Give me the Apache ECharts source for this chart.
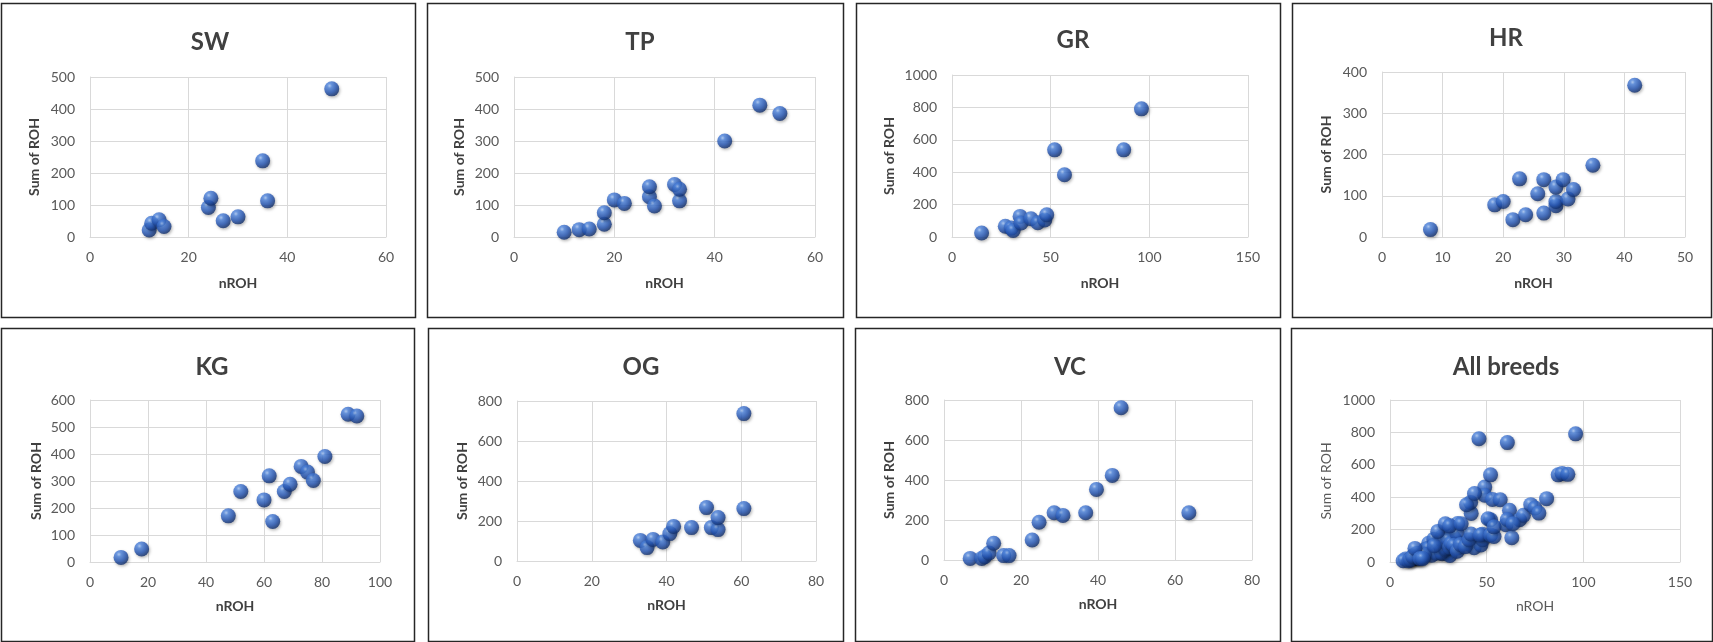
<!DOCTYPE html>
<html><head><meta charset="utf-8">
<script src="https://cdn.jsdelivr.net/npm/echarts@6/dist/echarts.min.js"></script>
<style>html,body{margin:0;padding:0;background:#fff}#c{width:1713px;height:642px}</style>
</head><body><div id="c"></div>
<script>
// ---- data (nROH, Sum of ROH) ----
const SW = [[12,22],[12.5,43],[14,54],[15,33],[24,92],[24.5,121],[27,51],[30,63],[35,238],[36,113],[49,463]];
const TP = [[10,15],[13,23],[15,25],[18,40],[18,76],[20,116],[22,105],[27,126],[27,157],[28,97],[32,164],[33,113],[33,149],[42,300],[49,412],[53,386]];
const GR = [[15,25],[27,66],[30,55],[31,40],[34.5,127],[35,86],[40,113],[43.5,88],[47,105],[48,137],[52,538],[57,384],[87,538],[96,791]];
const HR = [[8,18],[18.6,78],[20,86],[21.6,42],[22.7,141],[23.7,54],[25.7,105],[26.7,58],[26.7,139],[28.7,76],[28.7,86],[28.7,121],[29.9,139],[30.7,92],[31.6,115],[34.8,174],[41.7,368]];
const KG = [[10.7,17],[17.8,48],[47.7,171],[52,261],[60,230],[61.8,319],[63,150],[67,261],[69,288],[72.8,354],[75,333],[77,302],[81,391],[89,547],[92,541]];
const OG = [[33,103],[34.8,67],[36.4,108],[39,95],[40.9,137],[41.9,173],[46.7,167],[50.7,267],[52,167],[53.8,157],[53.8,217],[60.7,262],[60.7,737]];
const VC = [[6.8,8],[9.8,8],[10.6,17],[11.7,35],[12.9,84],[15.5,22],[16.9,22],[22.9,100],[24.7,189],[28.6,236],[30.9,223],[36.8,236],[39.6,353],[43.7,423],[46,761],[63.6,236]];
const ALL = [].concat(SW, TP, GR, HR, KG, OG, VC);

const panelNames = ['SW','TP','GR','HR','KG','OG','VC','All breeds'];
const panelData = [SW, TP, GR, HR, KG, OG, VC, ALL];
const xMax = [60, 60, 150, 50, 100, 80, 80, 150];
const xStep = [20, 20, 50, 10, 20, 20, 20, 50];
const yMax = [500, 500, 1000, 400, 600, 800, 800, 1000];
const yStep = [100, 100, 200, 100, 100, 200, 200, 200];
const xName = 'nROH';
const yName = 'Sum of ROH';

// ---- layout ----
const boxes = [[1,3,415,317],[427,3,843,317],[856,3,1280,317],[1292,3,1711,317],
               [1,328,414,641],[428,328,843,641],[855,328,1280,641],[1291,328,1712,641]];
const plots = [[90,77,386,237],[514,77,815,237],[952,75,1248,237],[1382,72,1685,237],
               [90,400,380,562],[517,401,816,561],[944,400,1252,560],[1390,400,1680,562]];
const titlePos = [[205,37],[635,37],[1068,35],[1501,33],[207,362],[636,362],[1065,362],[1501,362]];
const yGap = [50,49,57,50,48,49,49,58];

const FONT = 'Lato, "Open Sans", sans-serif';
const ball = {
  type:'radial', x:0.36, y:0.3, r:0.7,
  colorStops:[{offset:0,color:'#a8c8f8'},{offset:0.22,color:'#4f86e0'},{offset:0.65,color:'#2455b4'},{offset:1,color:'#12306e'}]
};

const grid=[], xAxis=[], yAxis=[], series=[], title=[], graphic=[];
for (let i=0;i<8;i++){
  const b=boxes[i], p=plots[i], t=titlePos[i];
  const last = i===7;
  graphic.push({type:'rect', silent:true, z:-1,
    shape:{x:b[0]+0.5,y:b[1]+0.5,width:b[2]-b[0],height:b[3]-b[1]},
    style:{fill:'#fff',stroke:'#262626',lineWidth:1.5}});
  title.push({text:panelNames[i], left:t[0], top:t[1], textAlign:'center', textVerticalAlign:'middle',
    textStyle:{fontFamily:FONT,fontSize:24,fontWeight:'bold',color:'#404040'}});
  grid.push({left:p[0], top:p[1], width:p[2]-p[0], height:p[3]-p[1], containLabel:false});
  xAxis.push({type:'value', gridIndex:i, min:0, max:xMax[i], interval:xStep[i],
    name:xName, nameLocation:'middle', nameGap:(i<4?39:37),
    nameTextStyle:{fontFamily:FONT,fontSize:14,fontWeight:last?'normal':'bold',color:last?'#595959':'#404040'},
    axisLine:{show:true,lineStyle:{color:'#d9d9d9',width:1}}, axisTick:{show:false},
    axisLabel:{fontFamily:FONT,fontSize:14,color:'#595959',margin:13,formatter:v=>String(v)},
    splitLine:{show:true,lineStyle:{color:'#d9d9d9',width:1}}});
  yAxis.push({type:'value', gridIndex:i, min:0, max:yMax[i], interval:yStep[i],
    name:yName, nameLocation:'middle', nameGap:yGap[i]-1, nameRotate:90,
    nameTextStyle:{fontFamily:FONT,fontSize:14,fontWeight:last?'normal':'bold',color:last?'#595959':'#404040'},
    axisLine:{show:true,lineStyle:{color:'#d9d9d9',width:1}}, axisTick:{show:false},
    axisLabel:{fontFamily:FONT,fontSize:14,color:'#595959',margin:15,formatter:v=>String(v)},
    splitLine:{show:true,lineStyle:{color:'#d9d9d9',width:1}}});
  series.push({type:'scatter', xAxisIndex:i, yAxisIndex:i, data:panelData[i], symbolSize:15,
    itemStyle:{color:ball, shadowBlur:3, shadowColor:'rgba(0,0,0,0.35)', shadowOffsetX:1, shadowOffsetY:1.5},
    emphasis:{disabled:true}, animation:false});
}

const chart = echarts.init(document.getElementById('c'), null, {renderer:'canvas'});
chart.setOption({backgroundColor:'#fff', animation:false, title, grid, xAxis, yAxis, series, graphic});
</script></body></html>
